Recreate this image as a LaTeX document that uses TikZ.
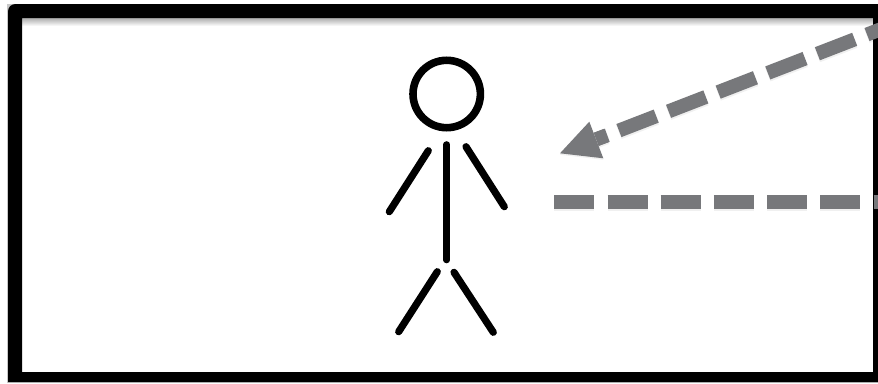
\documentclass[tikz,border=0pt]{standalone}
\usetikzlibrary{calc}
\definecolor{dashgray}{HTML}{77787B}
\tikzset{
  figure/.style={line width=#1, line cap=round, draw=black},
  dashline/.style={draw=dashgray, line width=14pt, dash pattern=on 40pt off 13.2pt},
  soft/.style={draw=black, line width=15pt, dash pattern=on 40pt off 13.2pt, opacity=0.06},
  softhead/.style={fill=black, opacity=0.06}
}
\begin{document}
\begin{tikzpicture}[x=1pt,y=-1pt]
\useasboundingbox (0,0) rectangle (878,383);
\fill[white] (0,0) rectangle (878,383);
\clip (0,0) rectangle (878,383);
% frame
\fill[black!22] (7,3.5) rectangle (878,382.5);
\fill[white] (22,18) rectangle (873,372);
\shade[top color=black!32, bottom color=white] (22,18) rectangle (873,26);
\fill[black,even odd rule]
  (16,4) -- (878,4) -- (878,382) -- (8,382) -- (8,12) .. controls (8,7) and (11,4) .. (16,4) -- cycle
  (22,18) rectangle (873,372);
% stick figure
\coordinate (headc) at (446.7,94);
\coordinate (bodyt) at (446.7,144.5);
\coordinate (bodyb) at (446.7,260);
\coordinate (larmt) at (428.3,150.7);
\coordinate (larmb) at (389.3,211.7);
\coordinate (rarmt) at (466,146.7);
\coordinate (rarmb) at (504.3,206.7);
\coordinate (llegt) at (437.3,271.7);
\coordinate (llegb) at (398.7,331.7);
\coordinate (rlegt) at (454,272.3);
\coordinate (rlegb) at (493.3,332.3);
\draw[line width=7.6pt] (headc) circle[radius=33.7];
\draw[figure=6.6pt] (bodyt) -- (bodyb);
\draw[figure=7.2pt] (larmt) -- (larmb);
\draw[figure=7.2pt] (rarmt) -- (rarmb);
\draw[figure=7.2pt] (llegt) -- (llegb);
\draw[figure=7.2pt] (rlegt) -- (rlegb);
% horizontal dashed line
\coordinate (hs) at (554.3,201.7);
\coordinate (he) at (900,201.7);
\coordinate (hss) at (554.3,203.2);
\coordinate (hes) at (900,203.2);
\draw[soft] (hss) -- (hes);
\draw[dashline] (hs) -- (he);
% diagonal dashed arrow
\coordinate (ds) at (904.3,20.1);
\coordinate (de) at (596.3,139.3);
\coordinate (dss) at (904.3,21.6);
\coordinate (des) at (596.3,140.8);
\coordinate (tip) at (560,153.3);
\coordinate (barba) at (589.3,121.7);
\coordinate (barbb) at (603.3,158.3);
\coordinate (stub) at (607.3,135.3);
\draw[soft] (dss) -- (des);
\draw[dashline] (ds) -- (de);
\fill[softhead] ($(tip)+(0,1.5)$) -- ($(barba)+(0,1.5)$) -- ($(barbb)+(0,1.5)$) -- cycle;
\draw[draw=dashgray, line width=14pt] (stub) -- (de);
\fill[dashgray] (tip) -- (barba) -- (barbb) -- cycle;
\end{tikzpicture}
\end{document}
